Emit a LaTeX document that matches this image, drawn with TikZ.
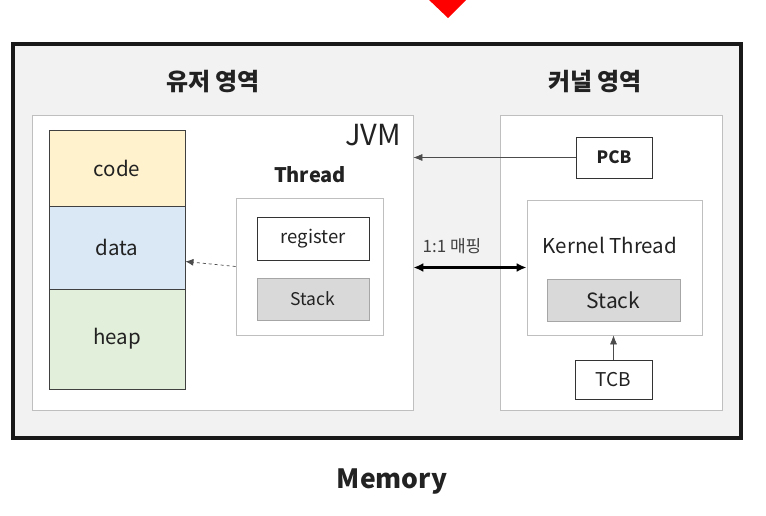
\documentclass[tikz,border=0pt]{standalone}
\usepackage{fontspec}
\setmainfont{Noto Sans CJK KR}
\usepackage{xcolor}
\usepackage{tikz}
\usetikzlibrary{arrows.meta}

\definecolor{codecol}{HTML}{FFF2CC}
\definecolor{datacol}{HTML}{DAE8F5}
\definecolor{heapcol}{HTML}{E2EFDA}
\definecolor{framecol}{HTML}{F2F2F2}
\definecolor{stackcol}{HTML}{D9D9D9}
\definecolor{txtcol}{HTML}{222222}

\tikzset{
  area/.style={rectangle, draw=black!25, fill=white, line width=0.8pt, inner sep=0pt},
  seg/.style={rectangle, draw=black!75, line width=0.9pt, inner sep=0pt, text=txtcol,
    minimum width=136pt, font=\fontsize{20.5}{24}\selectfont},
  box/.style={rectangle, draw=black!80, fill=white, line width=0.9pt, inner sep=0pt,
    text=txtcol, font=\fontsize{18.5}{22}\selectfont},
  stk/.style={rectangle, draw=black!35, fill=stackcol, line width=0.9pt, inner sep=0pt, text=txtcol},
  ttl/.style={font=\fontsize{24}{28}\selectfont\bfseries, inner sep=0pt, text=txtcol},
}

\begin{document}
\begin{tikzpicture}[x=1pt, y=-1pt]
\useasboundingbox (0,0) rectangle (766,516);

% outer memory frame
\node[rectangle, draw=black!90, fill=framecol, line width=3.5pt, inner sep=0pt,
    minimum width=728pt, minimum height=394pt] (memory) at (377,241) {};
\fill[red] (427,-2) -- (468,-2) -- (448,18) -- cycle;

\node[ttl] (usertitle) at (213,82) {유저 영역};
\node[ttl] (kerneltitle) at (595,82) {커널 영역};

% JVM side
\node[area, minimum width=381pt, minimum height=295pt] (jvm) at (222.5,262.5) {};
\node[font=\fontsize{29}{32}\selectfont, inner sep=0pt, text=txtcol] (jvmlabel) at (373,135) {JVM};

\node[seg, fill=codecol, minimum height=76pt] (code) at (117,168) {code};
\node[seg, fill=datacol, minimum height=83pt] (data) at (117,247.5) {data};
\node[seg, fill=heapcol, minimum height=100pt] (heap) at (117,339) {heap};

\node[font=\fontsize{20}{24}\selectfont\bfseries, inner sep=0pt, text=txtcol] (threadlabel) at (310,175) {Thread};
\node[area, minimum width=147pt, minimum height=137pt] (thread) at (309.5,266.5) {};
\node[box, minimum width=112pt, minimum height=43pt] (register) at (313,238.5) {register};
\node[stk, minimum width=112pt, minimum height=42pt, font=\fontsize{17.5}{21}\selectfont] (ustack) at (313,299) {Stack};

% kernel side
\node[area, minimum width=222pt, minimum height=295pt] (kernel) at (611,262.5) {};
\node[box, minimum width=76pt, minimum height=41pt, font=\fontsize{17}{20}\selectfont\bfseries] (pcb) at (614,157.5) {PCB};
\node[area, minimum width=175pt, minimum height=135pt] (kthread) at (614.5,267.5) {};
\node[font=\fontsize{20.5}{24}\selectfont, inner sep=0pt, text=txtcol] (ktlabel) at (610,245) {Kernel Thread};
\node[stk, minimum width=133pt, minimum height=42pt, font=\fontsize{21}{25}\selectfont] (kstack) at (613.5,300) {Stack};
\node[box, minimum width=77pt, minimum height=39pt, font=\fontsize{19}{22}\selectfont] (tcb) at (613.5,379.5) {TCB};

\node[font=\fontsize{17}{20}\selectfont, inner sep=0pt, text=black!75] (mapping) at (452,246) {1:1 매핑};
\node[font=\fontsize{26.5}{31}\selectfont\bfseries, inner sep=0pt, text=txtcol] (memlabel) at (392,482) {Memory};

% connectors
\draw[black!70, line width=0.6pt, -{Latex[length=9pt, width=7pt]}] (pcb.west) -- (pcb.west -| jvm.east);
\draw[black!70, line width=0.6pt, -{Latex[length=9pt, width=7pt]}] (tcb.north) -- (kthread.south -| tcb.north);
\draw[black, line width=2.6pt, {Latex[length=10pt, width=9pt]}-{Latex[length=10pt, width=9pt]}] (kthread.west -| jvm.east) -- (kthread.west);
\draw[black!70, line width=0.7pt, dashed, -{Latex[length=8pt, width=7pt]}] (thread.west) -- ([yshift=-14pt]data.east);

\end{tikzpicture}
\end{document}
